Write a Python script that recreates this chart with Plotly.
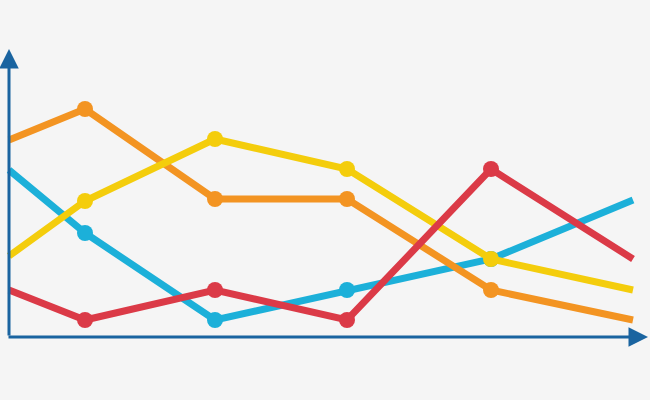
import plotly.graph_objects as go

x = [9, 85, 215, 347, 491, 633]
# values measured upward from the x axis line
blue   = [167, 104, 17, 47, 78, 137]
orange = [197, 228, 138, 138, 47, 17]
yellow = [81, 136, 198, 168, 78, 47]
red    = [47, 17, 47, 17, 168, 78]

series = [("blue", blue, "#1cb0d9"), ("orange", orange, "#f39422"),
          ("yellow", yellow, "#f4cd0c"), ("red", red, "#db3a47")]

fig = go.Figure()
for name, ys, c in series:
    fig.add_trace(go.Scatter(x=x, y=ys, mode="lines+markers", name=name,
                             line=dict(color=c, width=7),
                             marker=dict(color=c, opacity=1, size=[0, 16, 16, 16, 16, 0],
                                         line=dict(width=0))))

axc = "#1a64a0"
fig.add_annotation(x=9, y=288, ax=9, ay=0, xref="x", yref="y", axref="x", ayref="y",
                   showarrow=True, arrowhead=2, arrowsize=1.3, arrowwidth=3, arrowcolor=axc, text="")
fig.add_annotation(x=648, y=0, ax=7, ay=0, xref="x", yref="y", axref="x", ayref="y",
                   showarrow=True, arrowhead=2, arrowsize=1.3, arrowwidth=3, arrowcolor=axc, text="")

fig.update_xaxes(range=[0, 650], visible=False)
fig.update_yaxes(range=[-63, 337], visible=False)
fig.update_layout(width=650, height=400, margin=dict(l=0, r=0, t=0, b=0),
                  paper_bgcolor="#f5f5f5", plot_bgcolor="#f5f5f5", showlegend=False)
fig.write_html("out.html", config={"displayModeBar": False},
               post_script="document.body.style.margin='0';document.body.style.background='#f5f5f5';")
